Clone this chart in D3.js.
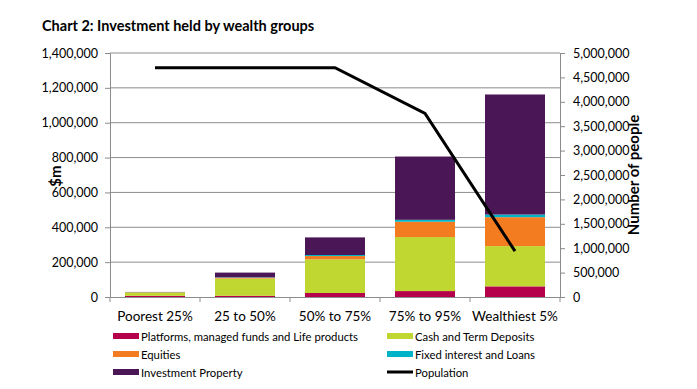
<!DOCTYPE html>
<html>
<head>
<meta charset="utf-8">
<script src="https://cdn.jsdelivr.net/npm/d3@7"></script>
<style>
  body { margin: 0; background: #fff; }
  svg text { font-family: Lato, "Open Sans", sans-serif; fill: #000; }
</style>
</head>
<body>
<div id="chart"></div>
<script>
// data ($m and people)
const groups = ["Poorest 25%", "25 to 50%", "50% to 75%", "75% to 95%", "Wealthiest 5%"];
const platforms = [7000, 7000, 23000, 34000, 61000];
const cash = [19000, 99000, 193000, 310000, 231000];
const equities = [1500, 5000, 19000, 88000, 166000];
const fixedInterest = [500, 2000, 6000, 11000, 15000];
const property = [1000, 27000, 101000, 363000, 689000];
const population = [4700000, 4700000, 4700000, 3760000, 940000];

const leftTicks = [0, 200000, 400000, 600000, 800000, 1000000, 1200000, 1400000];
const rightTicks = [0, 500000, 1000000, 1500000, 2000000, 2500000, 3000000, 3500000, 4000000, 4500000, 5000000];

const seriesNames = ["Platforms, managed funds and Life products", "Cash and Term Deposits", "Equities", "Fixed interest and Loans", "Investment Property"];
const colors = ["#b5004b", "#c0d631", "#f47c20", "#00b3c6", "#4a1656"];

const width = 697, height = 389;
const margin = {top: 53, right: 137, bottom: 92, left: 110};

const svg = d3.select("#chart").append("svg")
  .attr("width", width)
  .attr("height", height);

svg.append("text")
  .attr("x", 42).attr("y", 31)
  .attr("font-size", 14.5).attr("font-weight", "bold")
  .text("Chart 2: Investment held by wealth groups");

const x = d3.scaleBand().domain(groups)
  .range([margin.left, width - margin.right])
  .paddingInner(1/3).paddingOuter(1/6);
const y = d3.scaleLinear().domain([0, 1400000]).range([height - margin.bottom, margin.top]);
const y2 = d3.scaleLinear().domain([0, 5000000]).range([height - margin.bottom, margin.top]);

const fmt = d3.format(",");

// gridlines
svg.append("g").selectAll("line")
  .data(leftTicks.slice(1))
  .join("line")
  .attr("x1", margin.left).attr("x2", width - margin.right)
  .attr("y1", d => y(d)).attr("y2", d => y(d))
  .attr("stroke", "#8c8c8c").attr("stroke-width", 1);

// stacked bars
const table = groups.map((g, i) => ({
  group: g, s0: platforms[i], s1: cash[i], s2: equities[i], s3: fixedInterest[i], s4: property[i]
}));
const stack = d3.stack().keys(["s0", "s1", "s2", "s3", "s4"])(table);

svg.append("g").selectAll("g")
  .data(stack)
  .join("g")
  .attr("fill", (d, i) => colors[i])
  .selectAll("rect")
  .data(d => d)
  .join("rect")
  .attr("x", d => x(d.data.group))
  .attr("width", x.bandwidth())
  .attr("y", d => y(d[1]))
  .attr("height", d => y(d[0]) - y(d[1]));

// left axis
const leftAxis = svg.append("g")
  .attr("transform", `translate(${margin.left},0)`)
  .call(d3.axisLeft(y).tickValues(leftTicks).tickFormat(fmt).tickSize(5).tickPadding(7));
leftAxis.selectAll("text").attr("font-size", 12.5).attr("font-family", "Lato, sans-serif");

// right axis
const rightAxis = svg.append("g")
  .attr("transform", `translate(${width - margin.right},0)`)
  .call(d3.axisRight(y2).tickValues(rightTicks).tickFormat(fmt).tickSize(5).tickPadding(8));
rightAxis.selectAll("text").attr("font-size", 12.5).attr("font-family", "Lato, sans-serif");

// bottom axis
const boundaries = [0, 1, 2, 3, 4, 5].map(i => margin.left + i * x.step());
const bottom = svg.append("g")
  .attr("transform", `translate(0,${height - margin.bottom})`)
  .call(d3.axisBottom(x).tickSize(0).tickPadding(14));
bottom.selectAll("text").attr("font-size", 13.5).attr("font-family", "Lato, sans-serif");
bottom.selectAll(".tick line").remove();
bottom.append("g").selectAll("line")
  .data(boundaries)
  .join("line")
  .attr("x1", d => d).attr("x2", d => d)
  .attr("y1", 0).attr("y2", 5)
  .attr("stroke", "#8c8c8c");

[leftAxis, rightAxis, bottom].forEach(a => {
  a.select(".domain").attr("stroke", "#8c8c8c");
  a.selectAll(".tick line").attr("stroke", "#8c8c8c");
});

// population line
const line = d3.line()
  .x((d, i) => x(groups[i]) + x.bandwidth() / 2)
  .y(d => y2(d));
svg.append("path")
  .datum(population)
  .attr("d", line)
  .attr("fill", "none")
  .attr("stroke", "#000")
  .attr("stroke-width", 3);

// axis titles
svg.append("text")
  .attr("transform", "translate(61,176) rotate(-90)")
  .attr("text-anchor", "middle")
  .attr("font-size", 15).attr("font-weight", "bold")
  .text("$m");
svg.append("text")
  .attr("transform", "translate(639,175) rotate(-90)")
  .attr("text-anchor", "middle")
  .attr("font-size", 15).attr("font-weight", "bold")
  .text("Number of people");

// legend
const legendItems = [
  {name: seriesNames[0], color: colors[0], col: 0, row: 0},
  {name: seriesNames[1], color: colors[1], col: 1, row: 0},
  {name: seriesNames[2], color: colors[2], col: 0, row: 1},
  {name: seriesNames[3], color: colors[3], col: 1, row: 1},
  {name: seriesNames[4], color: colors[4], col: 0, row: 2},
  {name: "Population", color: "#000", col: 1, row: 2, isLine: true}
];
const legend = svg.append("g").selectAll("g")
  .data(legendItems)
  .join("g")
  .attr("transform", d => `translate(${d.col ? 387 : 113},${336 + d.row * 18})`);
legend.filter(d => !d.isLine).append("rect")
  .attr("x", 0).attr("y", -3).attr("width", 26).attr("height", 6)
  .attr("fill", d => d.color);
legend.filter(d => d.isLine).append("line")
  .attr("x1", 0).attr("x2", 26).attr("y1", 0).attr("y2", 0)
  .attr("stroke", "#000").attr("stroke-width", 3);
legend.append("text")
  .attr("x", 28).attr("y", 4.5)
  .attr("font-size", 11.3)
  .text(d => d.name);
</script>
</body>
</html>
